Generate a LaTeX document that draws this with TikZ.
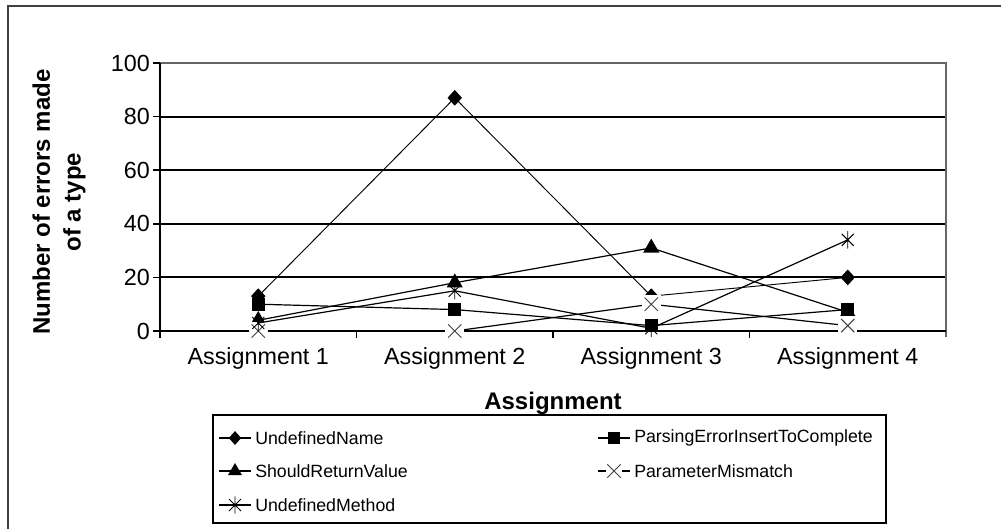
\documentclass[tikz,border=0pt]{standalone}
\usepackage{fontspec}
\setmainfont{Liberation Sans}
\usetikzlibrary{shapes.geometric}
\begin{document}
\begin{tikzpicture}[x=0.75pt,y=-0.75pt,
  frame/.style={line width=1.5pt,black!75},
  grid/.style={line width=1.4pt,black},
  pborder/.style={line width=1.2pt,black!60},
  axis/.style={line width=1.2pt,black},
  series/.style={line width=0.9pt,black},
  dia/.style={shape=diamond,fill=black,inner sep=0pt,minimum width=11pt,minimum height=12pt},
  sq/.style={shape=rectangle,fill=black,inner sep=0pt,minimum size=10pt},
  tri/.style={shape=regular polygon,regular polygon sides=3,fill=black,inner sep=0pt,minimum size=14pt},
  xm/.style={shape=rectangle,fill=white,inner sep=0pt,minimum size=14pt,
    path picture={\draw[line width=0.7pt,black!75]
      (path picture bounding box.center) +(-5pt,-5pt) -- +(5pt,5pt)
      (path picture bounding box.center) +(-5pt,5pt) -- +(5pt,-5pt);}},
  ast/.style={shape=rectangle,inner sep=0pt,minimum size=14pt,
    path picture={\draw[line width=0.7pt,black]
      (path picture bounding box.center) +(-4.5pt,-4.5pt) -- +(4.5pt,4.5pt)
      (path picture bounding box.center) +(-4.5pt,4.5pt) -- +(4.5pt,-4.5pt)
      (path picture bounding box.center) +(0,-6.5pt) -- +(0,6.5pt);}},
  ticklab/.style={font=\fontsize{17.5}{19}\selectfont,inner sep=0pt},
  leglab/.style={font=\fontsize{13.3}{15}\selectfont,inner sep=0pt,anchor=west},
  title/.style={font=\fontsize{18}{17}\bfseries\selectfont,inner sep=0pt,align=center}
]
\useasboundingbox (0,0) rectangle (1001,529);
% outer frame
\draw[frame] (8,529) -- (8,6) -- (1001,6);
% gridlines
\foreach \v in {20,40,60,80} {
  \draw[grid] (160,{331-2.68*\v}) -- (946,{331-2.68*\v});
}
\draw[pborder] (160,63) -- (946,63) -- (946,337);
\draw[grid] (160,331) -- (946,331);
% axes
\draw[axis] (160,63) -- (160,331);
\foreach \v in {0,20,40,60,80,100} {
  \draw[axis] (153,{331-2.68*\v}) -- (160,{331-2.68*\v});
  \node[ticklab,anchor=east] (yl\v) at (150,{331-2.68*\v}) {\v};
}
\foreach \x in {160,356.5,553,749.5} {
  \draw[axis] (\x,331) -- (\x,338);
}
% category labels
\node[ticklab] (c1) at (258.25,358) {Assignment 1};
\node[ticklab] (c2) at (454.75,358) {Assignment 2};
\node[ticklab] (c3) at (651.25,358) {Assignment 3};
\node[ticklab] (c4) at (847.75,358) {Assignment 4};
% axis titles
\node[title] (xt) at (553,403) {Assignment};
\node[title,rotate=90,font=\fontsize{18}{23}\bfseries\selectfont] (yt) at (59,202) {Number of errors made\\of a type};
% data coordinates
\def\xa{258.25}\def\xb{454.75}\def\xc{651.25}\def\xd{847.75}
\coordinate (un1) at (\xa,{331-2.68*13});
\coordinate (un2) at (\xb,{331-2.68*87});
\coordinate (un3) at (\xc,{331-2.68*13});
\coordinate (un4) at (\xd,{331-2.68*20});
\coordinate (sr1) at (\xa,{331-2.68*4});
\coordinate (sr2) at (\xb,{331-2.68*18});
\coordinate (sr3) at (\xc,{331-2.68*31});
\coordinate (sr4) at (\xd,{331-2.68*7});
\coordinate (pe1) at (\xa,{331-2.68*10});
\coordinate (pe2) at (\xb,{331-2.68*8});
\coordinate (pe3) at (\xc,{331-2.68*2});
\coordinate (pe4) at (\xd,{331-2.68*8});
\coordinate (pm1) at (\xa,{331-2.68*0});
\coordinate (pm2) at (\xb,{331-2.68*0});
\coordinate (pm3) at (\xc,{331-2.68*10});
\coordinate (pm4) at (\xd,{331-2.68*2});
\coordinate (um1) at (\xa,{331-2.68*3});
\coordinate (um2) at (\xb,{331-2.68*15});
\coordinate (um3) at (\xc,{331-2.68*1});
\coordinate (um4) at (\xd,{331-2.68*34});
% series: UndefinedName
\draw[series,line width=0.7pt] (un1) -- (un2) -- (un3) -- (un4);
\foreach \i in {1,2,3,4} \node[dia] (mun\i) at (un\i) {};
% ShouldReturnValue
\draw[series] (sr1) -- (sr2) -- (sr3) -- (sr4);
\foreach \i in {1,2,3,4} \node[tri] (msr\i) at (sr\i) {};
% ParsingErrorInsertToComplete
\draw[series] (pe1) -- (pe2) -- (pe3) -- (pe4);
\foreach \i in {1,2,3,4} \node[sq] (mpe\i) at (pe\i) {};
% ParameterMismatch
\draw[series] (pm1) -- (pm2) -- (pm3) -- (pm4);
\foreach \i in {1,2,3,4} \node[xm] (mpm\i) at (pm\i) {};
% UndefinedMethod
\draw[series] (um1) -- (um2) -- (um3) -- (um4);
\foreach \i in {1,2,3,4} \node[ast] (mum\i) at (um\i) {};
% legend
\draw[line width=1.3pt,black] (213,415) rectangle (886,523);
\coordinate (la1) at (219,438); \coordinate (lb1) at (251,438);
\coordinate (la2) at (219,471); \coordinate (lb2) at (251,471);
\coordinate (la3) at (219,505); \coordinate (lb3) at (251,505);
\coordinate (lc1) at (598,438); \coordinate (ld1) at (630,438);
\coordinate (lc2) at (598,471); \coordinate (ld2) at (630,471);
\draw[series] (la1) -- (lb1);
\node[dia,minimum width=9.5pt,minimum height=10.5pt] (lm1) at (235,438) {};
\node[leglab] (lt1) at (255,438) {UndefinedName};
\draw[series] (la2) -- (lb2);
\node[tri,minimum size=12pt] (lm2) at (235,471) {};
\node[leglab] (lt2) at (255,471) {ShouldReturnValue};
\draw[series] (la3) -- (lb3);
\node[ast] (lm3) at (235,505) {};
\node[leglab] (lt3) at (255,505) {UndefinedMethod};
\draw[series] (lc1) -- (ld1);
\node[sq,minimum size=9pt] (lm4) at (614,438) {};
\node[leglab] (lt4) at (634,438) {ParsingErrorInsertToComplete};
\draw[series] (lc2) -- (ld2);
\node[xm,minimum size=12pt] (lm5) at (614,471) {};
\node[leglab] (lt5) at (634,471) {ParameterMismatch};
\end{tikzpicture}
\end{document}
